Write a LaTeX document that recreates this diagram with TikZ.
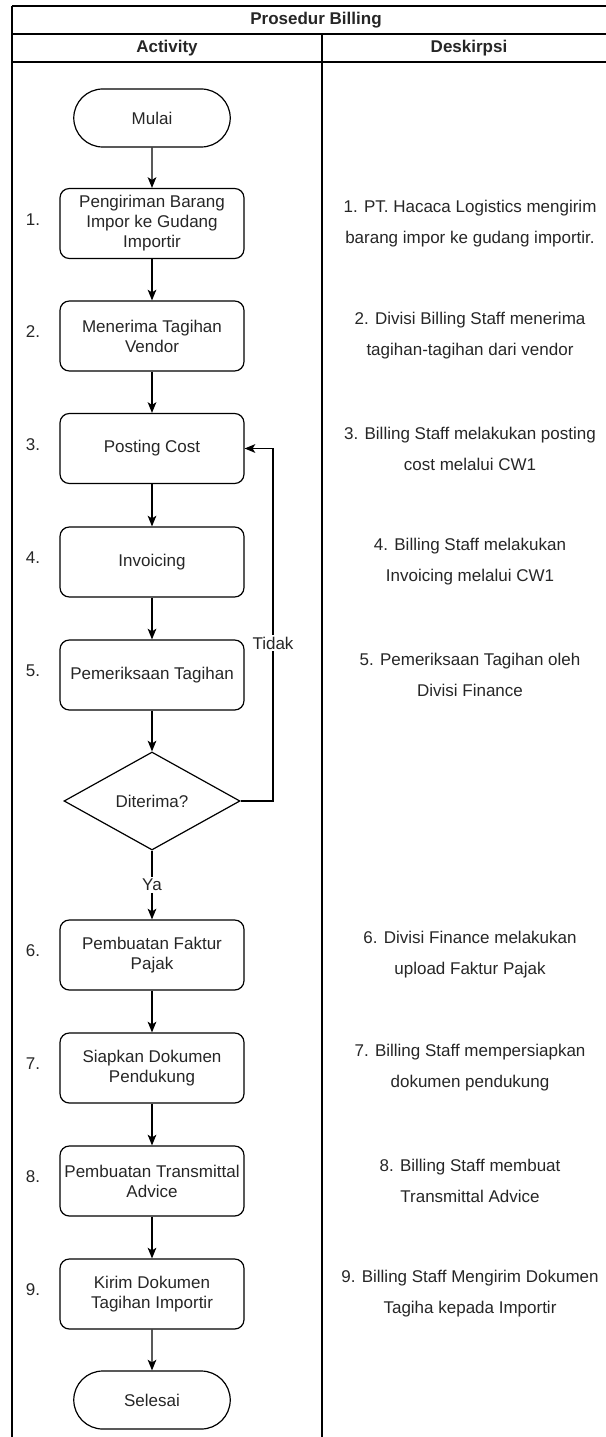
\documentclass[tikz,border=0pt]{standalone}
\usepackage{fontspec}
\setmainfont{Liberation Sans}
\usetikzlibrary{arrows.meta, positioning, shapes.geometric, shapes.misc}

\begin{document}
\begin{tikzpicture}[x=0.75pt,y=-0.75pt,line width=0.9pt,
    every node/.style={font=\fontsize{12.75}{15}\selectfont,text=black!85},
    procbox/.style={draw,rounded corners=7pt,minimum width=138pt,minimum height=52.5pt,align=center,inner sep=1pt},
    termbox/.style={draw,rounded rectangle,minimum width=124pt,minimum height=43.5pt},
    decbox/.style={draw,diamond,minimum width=132pt,minimum height=73.5pt,inner sep=0pt},
    desc/.style={align=center,font=\fontsize{12.75}{23.25}\selectfont},
    flow/.style={-{Stealth[length=8pt,width=6.5pt,inset=2pt]}}]
    \useasboundingbox (0,0) rectangle (606,1437);
    % table frame
    \draw (12,6) -- (606,6);
    \draw (12,34) -- (606,34);
    \draw (12,62) -- (606,62);
    \draw (12,6) -- (12,1437);
    \draw (322,34) -- (322,1437);
    \node[font=\bfseries\fontsize{12.75}{15}\selectfont] (title) at (316,20) {Prosedur Billing};
    \node[font=\bfseries\fontsize{12.75}{15}\selectfont] (hact) at (167,48) {Activity};
    \node[font=\bfseries\fontsize{12.75}{15}\selectfont] (hdesc) at (469,48) {Deskirpsi};
    % flow
    \node[termbox] (mulai) at (152,118) {Mulai};
    \node[procbox] (b1) at (152,223.5) {Pengiriman Barang\\Impor ke Gudang\\Importir};
    \node[procbox] (b2) at (152,336) {Menerima Tagihan\\Vendor};
    \node[procbox] (b3) at (152,448.5) {Posting Cost};
    \node[procbox] (b4) at (152,562) {Invoicing};
    \node[procbox] (b5) at (152,675) {Pemeriksaan Tagihan};
    \node[decbox] (dec) at (152,801) {Diterima?};
    \node[procbox] (b6) at (152,955) {Pembuatan Faktur\\Pajak};
    \node[procbox] (b7) at (152,1068) {Siapkan Dokumen\\Pendukung};
    \node[procbox] (b8) at (152,1181) {Pembuatan Transmittal\\Advice};
    \node[procbox] (b9) at (152,1294) {Kirim Dokumen\\Tagihan Importir};
    \node[termbox] (selesai) at (152,1400) {Selesai};
    \node[fill=white,inner sep=1pt] (ya) at (152,885) {Ya};
    \node[fill=white,inner sep=1pt] (tidak) at (273,643) {Tidak};
    \foreach \a/\b in {mulai/b1,b1/b2,b2/b3,b3/b4,b4/b5,b5/dec,b6/b7,b7/b8,b8/b9,b9/selesai} {
        \draw[flow] (\a) -- (\b);
    }
    \draw (dec.south) -- (ya);
    \draw[flow] (ya) -- (b6);
    \draw (dec.east) -| (tidak);
    \draw[flow] (tidak) |- (b3.east);
    % numbers
    \foreach \i in {1,...,9} {
        \node (n\i) at ([yshift=3pt]b\i.center -| 33,0) {\i.};
    }
    % descriptions
    \foreach \i/\la/\lb in {1/{1. PT. Hacaca Logistics mengirim}/{barang impor ke gudang importir.},
        2/{2. Divisi Billing Staff menerima}/{tagihan-tagihan dari vendor},
        3/{3. Billing Staff melakukan posting}/{cost melalui CW1},
        4/{4. Billing Staff melakukan}/{Invoicing melalui CW1},
        5/{5. Pemeriksaan Tagihan oleh}/{Divisi Finance},
        6/{6. Divisi Finance melakukan}/{upload Faktur Pajak},
        7/{7. Billing Staff mempersiapkan}/{dokumen pendukung},
        8/{8. Billing Staff membuat}/{Transmittal Advice},
        9/{9. Billing Staff Mengirim Dokumen}/{Tagiha kepada Importir}} {
        \node[desc] (d\i) at (b\i.center -| 470,0) {\la\\\lb};
    }
\end{tikzpicture}
\end{document}
